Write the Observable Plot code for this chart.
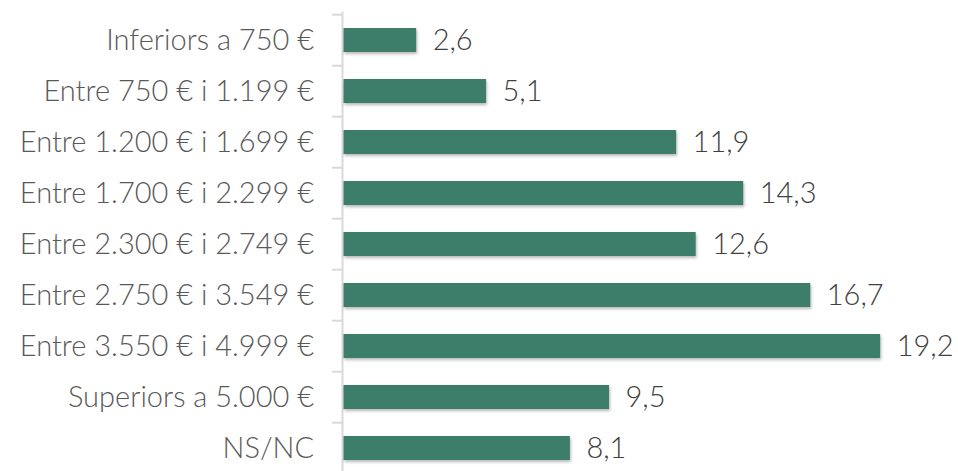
<!DOCTYPE html>
<html>
<head>
<meta charset="utf-8">
<script src="https://cdn.jsdelivr.net/npm/d3@7"></script>
<script src="https://cdn.jsdelivr.net/npm/@observablehq/plot@0.6"></script>
<style>
  html, body { margin: 0; padding: 0; background: #fff; overflow: hidden; }
  #chart svg { display: block; }
  .bars { filter: drop-shadow(1px 2px 1.5px rgba(0,0,0,0.28)); }
</style>
</head>
<body>
<div id="chart"></div>
<script>
const categories = [
  "Inferiors a 750 €",
  "Entre 750 € i 1.199 €",
  "Entre 1.200 € i 1.699 €",
  "Entre 1.700 € i 2.299 €",
  "Entre 2.300 € i 2.749 €",
  "Entre 2.750 € i 3.549 €",
  "Entre 3.550 € i 4.999 €",
  "Superiors a 5.000 €",
  "NS/NC"
];
const values = [2.6, 5.1, 11.9, 14.3, 12.6, 16.7, 19.2, 9.5, 8.1];

const data = categories.map((c, i) => ({category: c, value: values[i]}));
const fmt = v => v.toFixed(1).replace(".", ",");

const chart = Plot.plot({
  width: 958,
  height: 471,
  marginTop: 11.5, marginBottom: 0, marginLeft: 0, marginRight: 0,
  style: {background: "#fff", fontFamily: "Lato, 'Noto Sans', sans-serif", overflow: "visible"},
  x: {domain: [0, 20], range: [343.5, 343.5 + 20 * 27.95], axis: null},
  y: {domain: categories, range: [11.5, 476], paddingInner: 0.53, paddingOuter: 0.265, axis: null},
  marks: [
    Plot.ruleX([0], {stroke: "#d9d9d9", strokeWidth: 2, dx: -1.5}),
    Plot.ruleY(categories, {y: d => d, x1: -0.36, x2: 0, dx: -1.5, dy: -25.8, stroke: "#d9d9d9", strokeWidth: 2}),
    Plot.barX(data, {y: "category", x: "value", fill: "#3d7e6b", className: "bars"}),
    Plot.text(data, {y: "category", x: 0, text: "category", textAnchor: "end", dx: -30, fill: "#595959", fontSize: 29, fontWeight: 300}),
    Plot.text(data, {y: "category", x: "value", text: d => fmt(d.value), textAnchor: "start", dx: 16, fill: "#404040", fontSize: 29, fontWeight: 300})
  ]
});
document.getElementById("chart").appendChild(chart);
</script>
</body>
</html>
